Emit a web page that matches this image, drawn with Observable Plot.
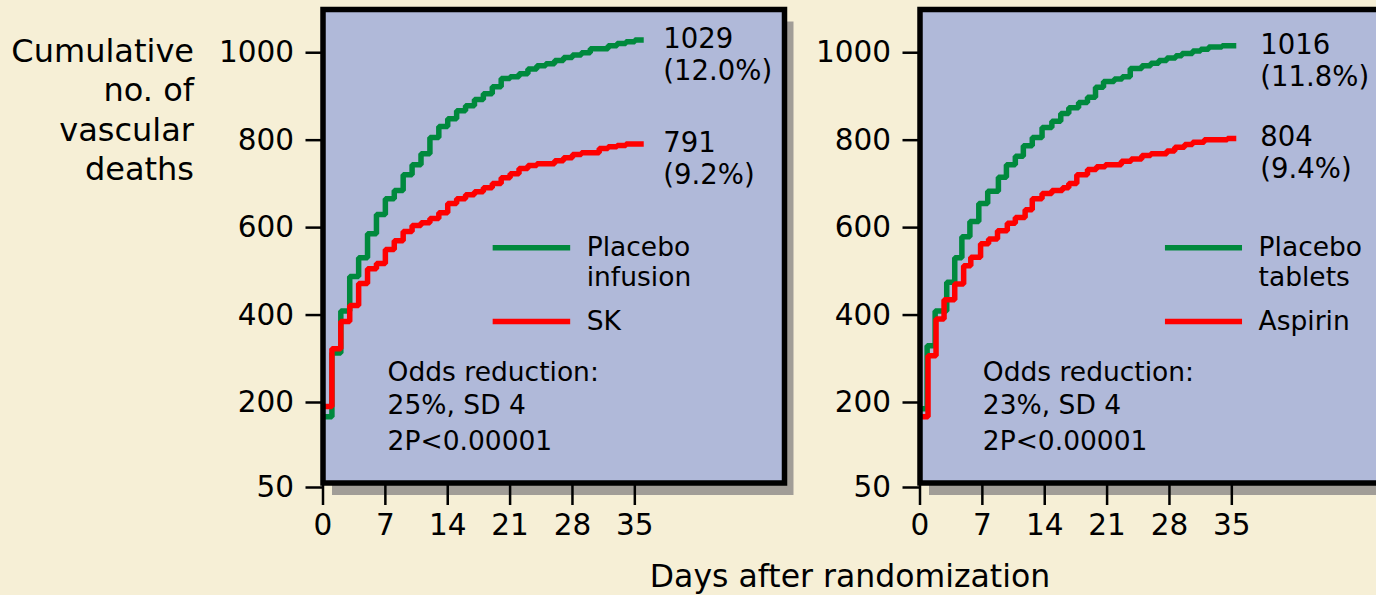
<!DOCTYPE html>
<html><head><meta charset="utf-8">
<script src="https://cdn.jsdelivr.net/npm/d3@7"></script>
<script src="https://cdn.jsdelivr.net/npm/@observablehq/plot@0.6"></script>
<style>
html,body{margin:0;padding:0;background:#f6efd6;}
#root{position:relative;width:1376px;height:595px;overflow:hidden;background:#f6efd6;font-family:"DejaVu Sans",Verdana,sans-serif;color:#000;}
.panel{position:absolute;top:0;width:800px;height:595px;}
#ylabel{position:absolute;right:1182px;top:32px;text-align:right;font-size:32px;line-height:39.4px;white-space:nowrap;}
#xlabel{position:absolute;left:600px;width:500px;top:560px;text-align:center;font-size:31.5px;line-height:32px;white-space:nowrap;}
</style></head>
<body>
<div id="root">
<div id="ylabel"></div>
<div class="panel" id="p1" style="left:0"></div>
<div class="panel" id="p2" style="left:597px"></div>
<div id="xlabel"></div>
</div>
<script>
// ---------- data ----------
const yLabelLines = ["Cumulative", "no. of", "vascular", "deaths"];
const xLabel = "Days after randomization";
const yTicks = [50, 200, 400, 600, 800, 1000];
const xTicks = [0, 7, 14, 21, 28, 35];

// Left panel: streptokinase vs placebo infusion
const skPlaceboDays = [0,1,2,3,4,5,6,7,8,9,10,11,12,13,14,15,16,17,18,19,20,21,22,23,24,25,26,27,28,29,30,31,32,33,34,35];
const skPlaceboDeaths = [175,313,409,488,531,586,630,666,685,721,744,769,806,831,849,867,879,893,906,922,941,945,952,963,970,975,982,989,995,1000,1009,1009,1016,1021,1025,1029];
const skDays = [0,1,2,3,4,5,6,7,8,9,10,11,12,13,14,15,16,17,18,19,20,21,22,23,24,25,26,27,28,29,30,31,32,33,34,35];
const skDeaths = [193,323,385,422,472,506,518,550,570,591,605,611,621,634,655,666,675,682,691,701,714,723,735,742,746,746,753,760,767,771,771,781,785,788,791,791];
const skEndDay = 36;

// Right panel: aspirin vs placebo tablets
const aspPlaceboDays = [0,0.8,1.7,3.0,3.9,4.7,5.6,6.6,7.6,8.8,9.7,10.7,11.6,12.6,13.7,14.8,15.8,16.7,17.8,18.8,19.7,20.6,21.8,22.7,23.6,24.9,25.9,26.8,27.7,28.7,29.4,30.6,31.5,32.4,33.9];
const aspPlaceboDeaths = [189,330,409,475,531,579,614,655,683,715,744,763,787,806,829,843,861,874,886,898,921,934,940,945,964,970,976,982,988,993,998,1004,1008,1013,1016];
const aspirinDays = [0,0.9,1.8,2.7,3.9,4.9,5.7,6.8,7.7,8.7,9.8,10.7,11.8,12.6,13.7,14.8,16.0,16.7,17.6,18.8,19.8,20.8,22.6,23.7,24.9,25.9,27.7,28.6,29.7,30.6,31.9,34.5];
const aspirinDeaths = [175,307,391,435,471,513,532,563,574,593,610,623,641,666,678,685,691,701,721,733,739,744,752,757,765,769,775,784,790,795,801,804];
const aspEndDay = 35.5;

const leftLegendLabels = ["Placebo\ninfusion", "SK"];
const rightLegendLabels = ["Placebo\ntablets", "Aspirin"];
const leftEndLabels = [["1029", "(12.0%)"], ["791", "(9.2%)"]];
const rightEndLabels = [["1016", "(11.8%)"], ["804", "(9.4%)"]];
const leftOddsLines = ["Odds reduction:", "25%, SD 4", "2P<0.00001"];
const rightOddsLines = ["Odds reduction:", "23%, SD 4", "2P<0.00001"];

// ---------- styling ----------
const COLORS = {placebo: "#00893d", active: "#ff0000"};
const PANEL = "#b0b9d9", SHADOW = "#a19d97";
const FONT = "DejaVu Sans";

document.getElementById("ylabel").innerHTML = yLabelLines.join("<br>");
document.getElementById("xlabel").textContent = xLabel;

function drawPanel(el, cfg) {
  const lineData = [];
  cfg.series.forEach(s => {
    s.days.forEach((d, i) => lineData.push({day: d, deaths: s.deaths[i], name: s.name}));
    lineData.push({day: cfg.endDay, deaths: s.deaths[s.deaths.length - 1], name: s.name});
  });
  const legend = cfg.series.map((s, i) => ({name: s.name, y: cfg.legendY[i], label: s.legend}));
  const legendText = legend.flatMap(l => l.label.split("\n").map((t, j) => ({t, y: l.y, j})));
  const endText = cfg.series.flatMap((s, i) => cfg.endLabels[i].map((t, j) => ({t, y: s.deaths[s.deaths.length - 1], j})));
  const oddsText = cfg.odds.map((t, j) => ({t, j}));
  const oddsDy = [0, 33, 69];
  const textOpts = {textAnchor: "start", fontFamily: FONT, fill: "#000"};

  const lineMarks = [0, 1].flatMap(j => [
    Plot.text(legendText.filter(d => d.j === j), {...textOpts, x: cfg.legendTextX, y: "y", text: "t", dy: j * 30, fontSize: 26.5}),
    Plot.text(endText.filter(d => d.j === j), {...textOpts, x: cfg.endTextX, y: "y", text: "t", dy: j * 32 - 1, fontSize: 27.5})
  ]);
  const oddsMarks = [0, 1, 2].map(j =>
    Plot.text(oddsText.filter(d => d.j === j), {...textOpts, x: cfg.oddsX, y: cfg.oddsY, text: "t", dy: oddsDy[j], fontSize: 26.5})
  );

  const chart = Plot.plot({
    width: 800, height: 595,
    marginLeft: 322.5, marginRight: 16, marginTop: 9, marginBottom: 112.5,
    x: {domain: [0, 51.8]},
    y: {type: "linear", domain: [50, 200, 1100], range: [487, 402, 8.5]},
    style: {background: "transparent", fontFamily: FONT, fontSize: "29.5px", overflow: "visible", color: "#000"},
    marks: [
      Plot.frame({fill: SHADOW, dx: 9, dy: 12}),
      Plot.frame({fill: PANEL}),
      Plot.line(lineData, {x: "day", y: "deaths", z: "name", stroke: d => COLORS[d.name],
        curve: "step-after", strokeWidth: 5.5, strokeLinejoin: "miter", strokeLinecap: "butt"}),
      Plot.ruleY(legend, {y: "y", x1: cfg.legendX1, x2: cfg.legendX2, stroke: d => COLORS[d.name], strokeWidth: 5.5}),
      ...lineMarks,
      ...oddsMarks,
      Plot.frame({stroke: "#000", strokeWidth: 5.5}),
      Plot.axisY({ticks: yTicks, tickFormat: d => String(d), tickSize: 17, tickPadding: 12,
        strokeWidth: 2.5, stroke: "#000", label: null, fontSize: 29.5}),
      Plot.axisX({ticks: xTicks, tickFormat: d => String(d), tickSize: 22.5, tickPadding: 9,
        strokeWidth: 2.5, stroke: "#000", label: null, fontSize: 29.5})
    ]
  });
  el.appendChild(chart);
}

drawPanel(document.getElementById("p1"), {
  series: [
    {name: "placebo", days: skPlaceboDays, deaths: skPlaceboDeaths, legend: leftLegendLabels[0]},
    {name: "active", days: skDays, deaths: skDeaths, legend: leftLegendLabels[1]}
  ],
  endDay: skEndDay,
  legendY: [554, 385], legendX1: 19.1, legendX2: 27.8, legendTextX: 29.6,
  endLabels: leftEndLabels, endTextX: 38.2,
  odds: leftOddsLines, oddsX: 7.25, oddsY: 269
});

drawPanel(document.getElementById("p2"), {
  series: [
    {name: "placebo", days: aspPlaceboDays, deaths: aspPlaceboDeaths, legend: rightLegendLabels[0]},
    {name: "active", days: aspirinDays, deaths: aspirinDeaths, legend: rightLegendLabels[1]}
  ],
  endDay: aspEndDay,
  legendY: [554, 385], legendX1: 27.55, legendX2: 36.2, legendTextX: 38.0,
  endLabels: rightEndLabels, endTextX: 38.2,
  odds: rightOddsLines, oddsX: 7.05, oddsY: 269
});
</script>
</body></html>
